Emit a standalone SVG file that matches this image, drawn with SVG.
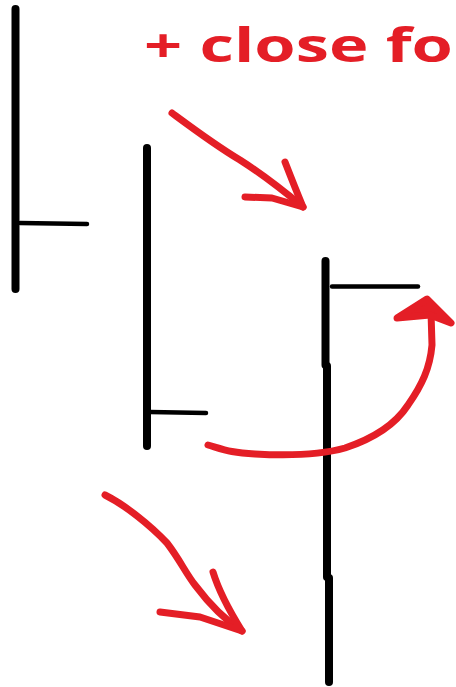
<svg xmlns="http://www.w3.org/2000/svg" width="456" height="687" viewBox="0 0 456 687">
<style>
.bar{stroke:#000;stroke-width:8;stroke-linecap:round;fill:none}
.tick{stroke:#000;stroke-width:4.5;stroke-linecap:round;fill:none}
.red{stroke:#e41e26;stroke-width:7;stroke-linecap:round;stroke-linejoin:round;fill:none}
.head{fill:#e41e26;stroke:#e41e26;stroke-width:7;stroke-linejoin:round}
.lbl{font-family:"Open Sans","DejaVu Sans",sans-serif;font-weight:bold;fill:#e41e26}
</style>
<rect width="456" height="687" fill="#fff"/>
<text class="lbl" x="144" y="62" font-size="46" textLength="309" lengthAdjust="spacingAndGlyphs">+ close fo</text>
<g id="candle1">
<line class="bar" x1="15.5" y1="9" x2="15.5" y2="289"/>
<line class="tick" x1="20" y1="223" x2="87" y2="224"/>
</g>
<g id="candle2">
<line class="bar" x1="147" y1="148" x2="147" y2="446"/>
<line class="tick" x1="150" y1="412" x2="206" y2="413"/>
</g>
<g id="candle3">
<line class="bar" x1="325.5" y1="261" x2="325.5" y2="365"/>
<line class="bar" x1="327" y1="366" x2="327" y2="577" stroke-linecap="butt"/>
<line class="bar" x1="329" y1="578" x2="329" y2="682"/>
<line class="tick" x1="332" y1="286.5" x2="418" y2="286.5"/>
</g>
<g id="connectors">
<path class="red" d="M172,113 C195,130 215,145 240,160 C265,176 285,192 303,207"/>
<path class="red" d="M285,162 C292,180 298,195 303,207 L272,198 L245,197"/>
<path class="red" d="M105,495 C125,505 150,525 167,543 C180,560 185,572 195,585 C210,605 225,620 242,631"/>
<path class="red" d="M213,572 C220,595 232,615 242,631 L200,617 L160,612"/>
<path class="red" d="M208,445 C225,450 232,453 255,454 C290,456 320,455 345,448 C375,438 395,425 408,405 C422,385 430,368 432,345 L431,312"/>
<path class="head" d="M397,318 L427,299 L451,323 L430,315 Z"/>
</g>
</svg>
